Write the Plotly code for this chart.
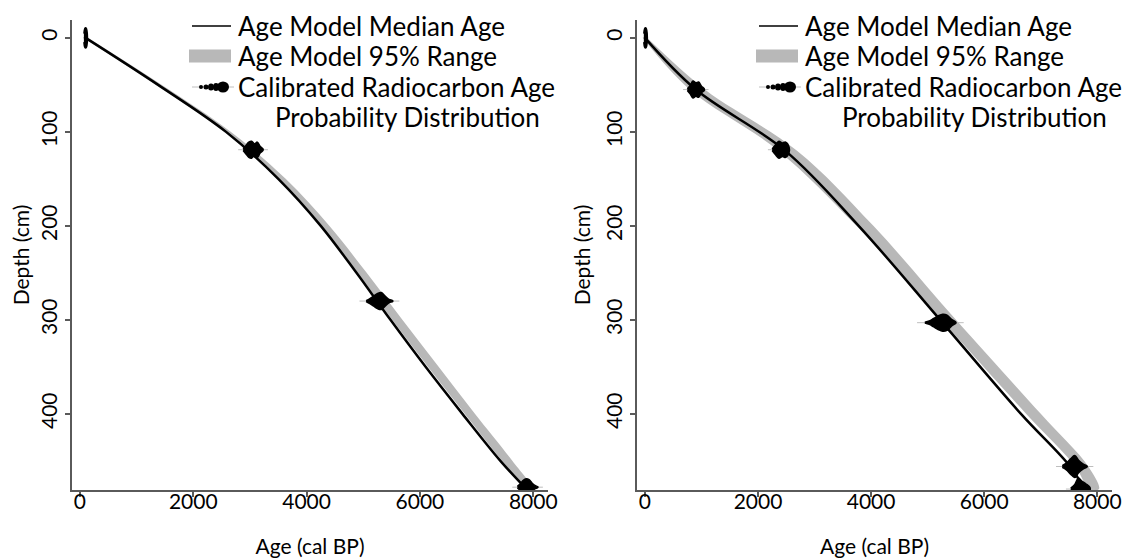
import plotly.graph_objects as go

# ---------------- data ----------------
# Left core: age model
left_depth = [0, 50, 100, 150, 200, 250, 300, 350, 400, 450, 480]
left_median = [100, 1380, 2580, 3500, 4250, 4880, 5480, 6100, 6750, 7420, 7880]
left_lo = [60, 1340, 2540, 3480, 4250, 4900, 5510, 6140, 6790, 7450, 7900]
left_hi = [140, 1440, 2660, 3630, 4400, 5060, 5690, 6330, 6970, 7630, 7990]

# Left core: calibrated dates
left_date_depth = [0, 119, 280, 478]
left_date_lo = [70, 2880, 5050, 7720]
left_date_hi = [130, 3230, 5520, 8080]
left_date_prob = [
    [0.5, 1.1, 1.2, 1.1, 0.5],
    [0.1, 0.5, 0.9, 1.0, 0.7, 0.9, 0.4, 0.1],
    [0.05, 0.3, 0.6, 0.9, 1.0, 0.6, 0.2, 0.05],
    [0.1, 0.4, 0.8, 1.0, 0.9, 0.5, 0.2, 0.05],
]

# Right core: age model
right_depth = [0, 55, 120, 200, 300, 400, 456, 480]
right_median = [0, 900, 2480, 3780, 5220, 6650, 7520, 7770]
right_lo = [-40, 790, 2360, 3740, 5240, 6740, 7610, 7860]
right_hi = [40, 1060, 2690, 4040, 5500, 7000, 7840, 8030]

# Right core: calibrated dates
right_date_depth = [0, 55, 119, 303, 456, 480]
right_date_lo = [-20, 750, 2250, 4950, 7380, 7530]
right_date_hi = [40, 1050, 2550, 5500, 7820, 7870]
right_date_prob = [
    [0.5, 1.1, 1.2, 1.1, 0.5],
    [0.1, 0.5, 1.0, 0.8, 0.9, 0.4, 0.1],
    [0.1, 0.6, 1.0, 0.8, 0.9, 0.3],
    [0.05, 0.2, 0.5, 0.8, 1.0, 0.9, 0.4, 0.05],
    [0.1, 0.4, 0.9, 1.3, 0.7, 0.3, 0.05],
    [0.1, 0.5, 1.3, 0.9, 0.6, 0.2],
]

x_ticks = [0, 2000, 4000, 6000, 8000]
y_ticks = [0, 100, 200, 300, 400]

legend_labels = ["Age Model Median Age", "Age Model 95% Range",
                 "Calibrated Radiocarbon Age", "Probability Distribution"]

# ---------------- style ----------------
FONT = "Lato"
BAND = "rgb(184,184,184)"
THIN = "rgb(190,190,190)"
HALF = 9  # half-height (cm) of a unit-probability distribution glyph
W, H = 1130, 559

fig = go.Figure()


def add_core(depth, med, lo, hi, d_depth, d_lo, d_hi, d_prob, xa, ya):
    fig.add_trace(go.Scatter(
        x=list(lo) + list(hi)[::-1], y=list(depth) + list(depth)[::-1],
        fill="toself", fillcolor=BAND, line=dict(width=0, color=BAND, shape="spline"),
        mode="lines", hoverinfo="skip", showlegend=False, xaxis=xa, yaxis=ya,
        name=legend_labels[1]))
    fig.add_trace(go.Scatter(
        x=med, y=depth, mode="lines", line=dict(color="black", width=2.5, shape="spline"),
        showlegend=False, xaxis=xa, yaxis=ya, name=legend_labels[0]))
    for d, a0, a1, p in zip(d_depth, d_lo, d_hi, d_prob):
        n = len(p)
        ages = [a0 + (a1 - a0) * i / (n - 1) for i in range(n)]
        fig.add_trace(go.Scatter(
            x=[a0 - (a1 - a0) * 0.25, a1 + (a1 - a0) * 0.25], y=[d, d], mode="lines",
            line=dict(color=THIN, width=1), showlegend=False,
            hoverinfo="skip", xaxis=xa, yaxis=ya))
        xs = ages + ages[::-1]
        ys = [d - HALF * v for v in p] + [d + HALF * v for v in p[::-1]]
        fig.add_trace(go.Scatter(
            x=xs, y=ys, fill="toself", fillcolor="black", mode="lines",
            line=dict(color="black", width=1.5, shape="spline"),
            showlegend=False, xaxis=xa, yaxis=ya, name=legend_labels[2]))


add_core(left_depth, left_median, left_lo, left_hi, left_date_depth, left_date_lo,
         left_date_hi, left_date_prob, "x", "y")
add_core(right_depth, right_median, right_lo, right_hi, right_date_depth, right_date_lo,
         right_date_hi, right_date_prob, "x2", "y2")

# ---------------- legends (drawn in paper space) ----------------
shapes, annotations = [], []


def px(x):
    return x / W


def py(y):
    return 1 - y / H


def legend_block(x0):
    rows = [18, 48, 79, 109]
    for i, (lab, ry) in enumerate(zip(legend_labels, rows)):
        tx = x0 + 35 if i < 3 else x0 + 72
        annotations.append(dict(x=px(tx), y=py(ry), xref="paper", yref="paper", text=lab,
                                showarrow=False, xanchor="left", yanchor="middle",
                                font=dict(family=FONT, size=26, color="black")))
    shapes.append(dict(type="line", xref="paper", yref="paper", x0=px(x0 - 9), x1=px(x0 + 30),
                       y0=py(rows[0]), y1=py(rows[0]), line=dict(color="black", width=1.5)))
    shapes.append(dict(type="rect", xref="paper", yref="paper", x0=px(x0 - 12), x1=px(x0 + 30),
                       y0=py(rows[1] - 6.5), y1=py(rows[1] + 6.5), fillcolor=BAND,
                       line=dict(width=0)))
    r = rows[2]
    shapes.append(dict(type="line", xref="paper", yref="paper", x0=px(x0 - 9), x1=px(x0 + 33),
                       y0=py(r), y1=py(r), line=dict(color=THIN, width=1)))
    for cx, rad_x, rad_y in [(x0, 2, 2), (x0 + 5, 2.5, 2.5), (x0 + 10, 3, 3.5),
                             (x0 + 15, 3, 4), (x0 + 22, 6, 5.5)]:
        shapes.append(dict(type="circle", xref="paper", yref="paper",
                           x0=px(cx - rad_x), x1=px(cx + rad_x), y0=py(r - rad_y), y1=py(r + rad_y),
                           fillcolor="black", line=dict(width=0)))


legend_block(193)
legend_block(760)

axis_common = dict(showgrid=False, zeroline=False, showline=True, linecolor="rgb(90,90,90)",
                   linewidth=2, ticks="outside", ticklen=5, tickwidth=2, tickcolor="rgb(90,90,90)",
                   tickfont=dict(family=FONT, size=21, color="black"), mirror=False)
xr = [-140, 8260]
yr = [481, -19]
ydom = [(H - 482) / H, (H - 12) / H]
xcommon = dict(range=xr, tickvals=x_ticks, ticklabelstandoff=-13,
               title=dict(text="Age (cal BP)", font=dict(size=21), standoff=27), **axis_common)
ycommon = dict(domain=ydom, range=yr, tickvals=y_ticks, tickangle=-90,
               title=dict(text="Depth (cm)", font=dict(size=21), standoff=4), **axis_common)

fig.update_layout(
    width=W, height=H, paper_bgcolor="white", plot_bgcolor="white",
    margin=dict(l=0, r=0, t=0, b=0, autoexpand=False),
    font=dict(family=FONT, color="black"), showlegend=False,
    xaxis=dict(domain=[64 / W, 540 / W], anchor="y", **xcommon),
    yaxis=dict(anchor="x", **ycommon),
    xaxis2=dict(domain=[629 / W, 1104 / W], anchor="y2", **xcommon),
    yaxis2=dict(anchor="x2", **ycommon),
    shapes=shapes, annotations=annotations,
)

fig.write_html("out.html")
